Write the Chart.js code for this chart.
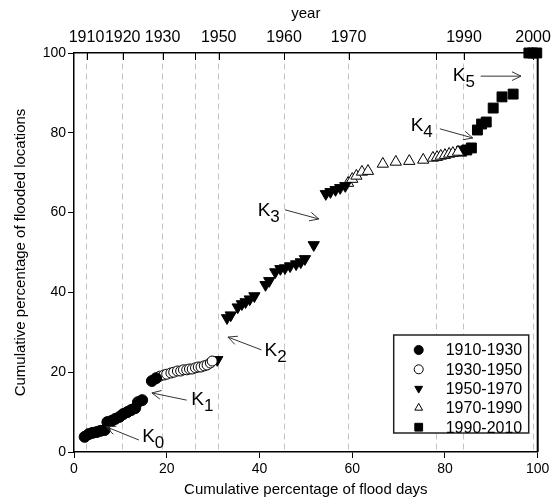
<!DOCTYPE html>
<html>
<head>
<meta charset="utf-8">
<script src="https://cdn.jsdelivr.net/npm/chart.js@4.4.1/dist/chart.umd.min.js"></script>
<style>
  html, body { margin: 0; padding: 0; background: #fff; }
  #wrap { width: 557px; height: 502px; }
</style>
</head>
<body>
<div id="wrap"><canvas id="chart" width="557" height="502"></canvas></div>
<script>
// periods shown in the legend
const periods = ["1910-1930", "1930-1950", "1950-1970", "1970-1990", "1990-2010"];

// cumulative % of flood days (x) and cumulative % of flooded locations (y)
const days1910 = [2.3, 3.2, 4.0, 4.9, 5.7, 6.6, 7.2, 8.1, 8.9, 9.8, 10.6, 11.5, 12.3, 13.2, 13.8, 14.7, 16.8, 17.7];
const locs1910 = [3.8, 4.5, 4.8, 5.0, 5.3, 5.5, 7.5, 7.8, 8.3, 8.8, 9.5, 10.0, 10.5, 11.0, 12.5, 13.0, 17.8, 18.5];

const days1930 = [18.5, 19.4, 20.0, 20.9, 21.5, 22.3, 23.0, 23.6, 24.3, 24.9, 25.5, 26.2, 26.8, 27.4, 28.1, 28.7, 29.4, 29.8];
const locs1930 = [19.0, 19.3, 19.5, 19.8, 20.0, 20.3, 20.3, 20.6, 20.6, 20.8, 20.8, 21.1, 21.3, 21.3, 21.6, 21.8, 22.3, 22.8];

const days1950 = [30.9, 33.0, 33.8, 35.3, 36.2, 37.0, 37.9, 38.9, 41.3, 42.1, 43.4, 44.5, 45.5, 46.6, 47.9, 48.9, 49.8, 51.7, 54.3, 55.3, 56.4, 57.4, 58.5];
const locs1950 = [23.1, 33.6, 34.3, 36.3, 37.1, 37.6, 38.3, 39.1, 41.9, 42.9, 45.1, 45.9, 46.1, 46.6, 47.1, 47.6, 48.4, 51.9, 64.7, 65.2, 65.7, 66.2, 66.7];

const days1970 = [59.1, 60.0, 60.9, 62.1, 63.4, 66.6, 69.4, 72.3, 75.3, 77.4, 78.3, 79.1, 80.0, 80.9, 81.7, 82.8];
const locs1970 = [67.4, 68.4, 69.2, 70.2, 70.4, 72.2, 72.7, 72.9, 73.2, 73.7, 73.9, 74.2, 74.4, 74.7, 74.9, 75.2];

const days1990 = [83.6, 84.7, 85.7, 87.0, 87.9, 88.9, 90.4, 92.3, 94.7, 98.1, 98.9, 99.8];
const locs1990 = [75.4, 75.7, 76.2, 80.7, 82.2, 82.7, 86.2, 89.0, 89.7, 100, 100, 100];

// year axis on top: position on the flood-day axis and its label
const yearTicks  = [2.7, 10.5, 19.1, 26.1, 31.2, 45.3, 59.2, 78.1, 84.1, 99.0];
const yearLabels = ["1910", "1920", "1930", "", "1950", "1960", "1970", "", "1990", "2000"];

// breakpoint labels K0..K5 (text anchor, arrow start, arrow tip), in data units
const breakNames = ["0", "1", "2", "3", "4", "5"];
const breakText  = [[14.7, 2.5], [25.3, 11.8], [41.1, 24.1], [39.6, 59.1], [72.6, 80.5], [81.7, 93.0]];
const breakFrom  = [[14.0, 3.0], [24.3, 13.0], [40.4, 25.6], [45.5, 60.7], [78.9, 81.0], [87.7, 94.2]];
const breakTo    = [[7.0, 6.3], [16.8, 14.8], [33.2, 28.8], [52.8, 58.4], [86.0, 78.7], [96.4, 94.2]];

const FONT = "'Liberation Sans', Arial, sans-serif";
Chart.defaults.font.family = FONT;
Chart.defaults.color = "#000";

function pts(xs, ys) {
  return xs.map((x, i) => ({ x: x, y: ys[i] }));
}

const decor = {
  id: "decor",
  afterDraw(chart) {
    const { ctx, chartArea: a, scales } = chart;
    const sx = scales.x, sy = scales.y, top = scales.x2;
    ctx.save();

    // inward ticks of the year axis
    ctx.strokeStyle = "#000";
    ctx.lineWidth = 1;
    top.ticks.forEach(t => {
      const px = Math.round(top.getPixelForValue(t.value)) + 0.5;
      ctx.beginPath();
      ctx.moveTo(px, a.top);
      ctx.lineTo(px, a.top + 7);
      ctx.stroke();
    });

    // right frame line
    ctx.lineWidth = 2;
    ctx.beginPath();
    ctx.moveTo(a.right, a.top);
    ctx.lineTo(a.right, a.bottom);
    ctx.stroke();

    // K labels with arrows
    ctx.strokeStyle = "#333";
    ctx.fillStyle = "#000";
    ctx.lineWidth = 1;
    breakNames.forEach((n, i) => {
      const x0 = sx.getPixelForValue(breakFrom[i][0]), y0 = sy.getPixelForValue(breakFrom[i][1]);
      const x1 = sx.getPixelForValue(breakTo[i][0]), y1 = sy.getPixelForValue(breakTo[i][1]);
      ctx.beginPath();
      ctx.moveTo(x0, y0);
      ctx.lineTo(x1, y1);
      const ang = Math.atan2(y1 - y0, x1 - x0);
      [-0.45, 0.45].forEach(d => {
        ctx.moveTo(x1, y1);
        ctx.lineTo(x1 - 10 * Math.cos(ang + d), y1 - 10 * Math.sin(ang + d));
      });
      ctx.stroke();

      const tx = sx.getPixelForValue(breakText[i][0]), ty = sy.getPixelForValue(breakText[i][1]);
      ctx.textBaseline = "alphabetic";
      ctx.textAlign = "left";
      ctx.font = "19px " + FONT;
      ctx.fillText("K", tx, ty);
      const w = ctx.measureText("K").width;
      ctx.font = "17px " + FONT;
      ctx.fillText(n, tx + w, ty + 6);
    });

    // legend box
    const bw = 135, bh = 98;
    const bx = a.right - 9 - bw, by = a.bottom - 19 - bh;
    ctx.fillStyle = "#fff";
    ctx.fillRect(bx, by, bw, bh);
    ctx.strokeStyle = "#222";
    ctx.lineWidth = 1.5;
    ctx.strokeRect(bx, by, bw, bh);
    ctx.font = "16px " + FONT;
    ctx.textBaseline = "middle";
    chart.data.datasets.forEach((ds, i) => {
      const cy = by + 15 + i * 19.3;
      ctx.fillStyle = ds.backgroundColor;
      ctx.strokeStyle = "#000";
      ctx.lineWidth = 1;
      Chart.helpers.drawPoint(ctx, {
        pointStyle: ds.pointStyle,
        rotation: ds.rotation || 0,
        radius: ds.pointStyle === "rect" ? 5.5 : 4.5,
        borderWidth: 1
      }, bx + 25, cy);
      ctx.fillStyle = "#000";
      ctx.fillText(periods[i], bx + 52, cy + 1);
    });
    ctx.restore();
  }
};

new Chart(document.getElementById("chart"), {
  type: "scatter",
  data: {
    datasets: [
      { label: periods[0], data: pts(days1910, locs1910), pointStyle: "circle", radius: 5.5,
        backgroundColor: "#000", borderColor: "#000", borderWidth: 1 },
      { label: periods[1], data: pts(days1930, locs1930), pointStyle: "circle", radius: 5,
        backgroundColor: "#fff", borderColor: "#000", borderWidth: 1 },
      { label: periods[2], data: pts(days1950, locs1950), pointStyle: "triangle", rotation: 180, radius: 6.5,
        backgroundColor: "#000", borderColor: "#000", borderWidth: 1 },
      { label: periods[3], data: pts(days1970, locs1970), pointStyle: "triangle", radius: 6.5,
        backgroundColor: "#fff", borderColor: "#000", borderWidth: 1 },
      { label: periods[4], data: pts(days1990, locs1990), pointStyle: "rect", radius: 7,
        backgroundColor: "#000", borderColor: "#000", borderWidth: 1, clip: false }
    ]
  },
  options: {
    responsive: false,
    animation: false,
    layout: { padding: { left: 0, right: 13, top: 0, bottom: 0 } },
    plugins: { legend: { display: false }, tooltip: { enabled: false } },
    scales: {
      x: {
        type: "linear", position: "bottom", min: 0, max: 100,
        afterFit(s) { s.height = 50; },
        ticks: { stepSize: 20, font: { size: 14 }, padding: 3, maxRotation: 0 },
        grid: { drawOnChartArea: false, tickLength: 6, tickColor: "#000" },
        border: { color: "#000", width: 1.5 },
        title: { display: true, text: "Cumulative percentage of flood days", font: { size: 15 }, padding: { bottom: 3 } }
      },
      x2: {
        type: "linear", position: "top", min: 0, max: 100,
        afterFit(s) { s.height = 53; },
        afterBuildTicks(s) { s.ticks = yearTicks.map(v => ({ value: v })); },
        ticks: { autoSkip: false, maxRotation: 0, font: { size: 16 }, padding: 6,
                 callback: (v, i) => yearLabels[i] },
        grid: { drawTicks: false, color: "#c4c4c4", lineWidth: 1 },
        border: { color: "#000", width: 1.5, dash: [6, 4] },
        title: { display: true, text: "year", font: { size: 15 }, padding: { top: 5 } }
      },
      y: {
        type: "linear", position: "left", min: 0, max: 100,
        afterFit(s) { s.width = 74; },
        ticks: { stepSize: 20, font: { size: 14 }, padding: 2 },
        grid: { drawOnChartArea: false, tickLength: 6, tickColor: "#000" },
        border: { color: "#000", width: 1.5 },
        title: { display: true, text: "Cumulative percentage of flooded locations", font: { size: 15 }, padding: { top: 12 } }
      }
    }
  },
  plugins: [decor]
});
</script>
</body>
</html>
